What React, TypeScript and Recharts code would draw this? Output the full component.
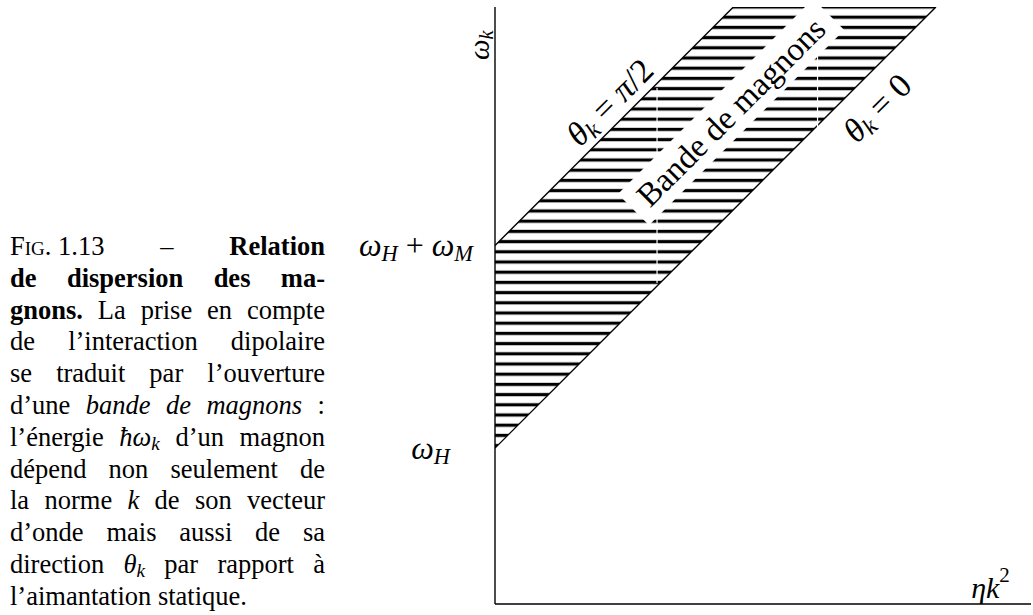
import React from 'react';
import {
  Area,
  ComposedChart,
  Line,
  ReferenceDot,
  ReferenceLine,
  XAxis,
  YAxis,
} from 'recharts';

// schematic units: omega_H = 1 on the vertical axis, same scale along eta k^2
const etaK2 = [0, 1.53, 2.83];
const thetaZero = [1, 2.53, 3.83]; // lower edge of the band
const thetaHalfPi: (number | null)[] = [2.3, 3.83, null]; // upper edge, leaves the frame at the top
const omegaTicks = [1, 2.3];
const omegaTickLabels = ['ω_H', 'ω_H + ω_M'];
const X_MAX = 3.44;
const Y_MAX = 3.83;

// thin white seams that cut the hatching in the original render
const seamX = [1.04, 2.07];
const seamFrom = [2.06, 3.05];
const seamTo = [3.31, 3.52];

const rows = etaK2.map((x, i) => ({
  x,
  zero: thetaZero[i],
  half: thetaHalfPi[i],
  band: [thetaZero[i], thetaHalfPi[i] ?? Y_MAX],
}));

const SERIF = '"Liberation Serif", "DejaVu Serif", serif';

// where the text labels sit, in chart units
const labelSpots = [
  { text: 'ω_k', x: -0.1, y: 3.585, angle: -90, size: 29 },
  { text: 'ηk^2', x: 3.18, y: 0.11, angle: 0, size: 30 },
  { text: 'θ_k = π/2', x: 0.733, y: 3.222, angle: -45, size: 34 },
  { text: 'θ_k = 0', x: 2.45, y: 3.185, angle: -45, size: 34 },
];
const bandLabel = { text: 'Bande de magnons', x: 1.515, y: 3.156 };
const tickGap = [45, 22];

// tiny TeX-ish renderer: _x subscript, ^x superscript, letters in italic
function mathRuns(src: string, size: number) {
  const out: React.ReactNode[] = [];
  let shift = 0;
  let i = 0;
  let k = 0;
  while (i < src.length) {
    let level = 0;
    let ch = src[i];
    if ((ch === '_' || ch === '^') && i + 1 < src.length) {
      level = ch === '_' ? 1 : -1;
      ch = src[i + 1];
      i += 2;
    } else {
      i += 1;
    }
    const target = level === 1 ? size * 0.24 : level === -1 ? -size * 0.38 : 0;
    const italic = /[A-Za-z\u0370-\u03ff]/.test(ch);
    out.push(
      <tspan
        key={k++}
        dy={target - shift}
        fontSize={level ? size * 0.7 : size}
        fontStyle={italic ? 'italic' : 'normal'}
      >
        {ch}
      </tspan>
    );
    shift = target;
  }
  return out;
}

const mathLabel = (text: string, angle: number, size: number) => (props: any) => {
  const { cx, cy } = props;
  return (
    <text
      x={cx}
      y={cy}
      transform={`rotate(${angle} ${cx} ${cy})`}
      textAnchor="middle"
      dominantBaseline="central"
      fontFamily={SERIF}
      fill="#000"
      style={{ whiteSpace: 'pre' }}
    >
      {mathRuns(text, size)}
    </text>
  );
};

const bandShape = (props: any) => {
  const { cx, cy } = props;
  return (
    <g transform={`rotate(-45 ${cx} ${cy})`}>
      <rect x={cx - 138} y={cy - 22} width={276} height={44} fill="#fff" />
      <text
        x={cx}
        y={cy}
        textAnchor="middle"
        dominantBaseline="central"
        fontFamily={SERIF}
        fontSize={33}
        fill="#000"
      >
        {bandLabel.text}
      </text>
    </g>
  );
};

const OmegaTick = (props: any) => {
  const { x, y, index } = props;
  return (
    <text
      x={x - tickGap[index]}
      y={y}
      textAnchor="end"
      dominantBaseline="central"
      fontFamily={SERIF}
      fill="#000"
      style={{ whiteSpace: 'pre' }}
    >
      {mathRuns(omegaTickLabels[index], 32)}
    </text>
  );
};

function DispersionChart() {
  return (
    <ComposedChart
      width={703}
      height={615}
      data={rows}
      margin={{ top: 7, right: 2, bottom: 10, left: 0 }}
    >
      <defs>
        <pattern id="hatch" patternUnits="userSpaceOnUse" width={10} height={10.2}>
          <rect x={0} y={5.4} width={10} height={3.2} fill="#000" />
        </pattern>
      </defs>
      <XAxis
        dataKey="x"
        type="number"
        domain={[0, X_MAX]}
        allowDataOverflow
        tick={false}
        tickLine={false}
        height={1}
        axisLine={{ stroke: '#000', strokeWidth: 1.4 }}
      />
      <YAxis
        type="number"
        domain={[0, Y_MAX]}
        allowDataOverflow
        ticks={omegaTicks}
        tick={<OmegaTick />}
        tickLine={false}
        tickSize={0}
        tickMargin={0}
        width={165}
        axisLine={{ stroke: '#000', strokeWidth: 1.4 }}
      />
      <Area
        dataKey="band"
        type="linear"
        stroke="none"
        fill="url(#hatch)"
        fillOpacity={1}
        isAnimationActive={false}
        activeDot={false}
      />
      <Line
        dataKey="zero"
        type="linear"
        stroke="#000"
        strokeWidth={1.4}
        dot={false}
        activeDot={false}
        isAnimationActive={false}
      />
      <Line
        dataKey="half"
        type="linear"
        stroke="#000"
        strokeWidth={1.4}
        dot={false}
        activeDot={false}
        isAnimationActive={false}
      />
      {seamX.map((x, i) => (
        <ReferenceLine
          key={`seam-${i}`}
          segment={[
            { x, y: seamFrom[i] },
            { x, y: seamTo[i] },
          ]}
          stroke="#fff"
          strokeWidth={1.2}
        />
      ))}
      <ReferenceDot
        x={bandLabel.x}
        y={bandLabel.y}
        r={0}
        shape={bandShape}
      />
      {labelSpots.map((l) => (
        <ReferenceDot
          key={l.text}
          x={l.x}
          y={l.y}
          r={0}
          ifOverflow="visible"
          shape={mathLabel(l.text, l.angle, l.size)}
        />
      ))}
    </ComposedChart>
  );
}

const sub: React.CSSProperties = { fontSize: '0.72em', verticalAlign: '-0.22em', lineHeight: 0 };
const lineStyle: React.CSSProperties = { textAlign: 'justify', textAlignLast: 'justify' };

function Caption() {
  return (
    <div
      style={{
        position: 'absolute',
        left: 10,
        top: 231,
        width: 315,
        fontFamily: SERIF,
        fontSize: 26.5,
        lineHeight: '31.8px',
        color: '#000',
      }}
    >
      <div style={lineStyle}>
        <span style={{ display: 'inline-block' }}>
          <span style={{ fontVariant: 'small-caps' }}>Fig.</span> 1.13
        </span>{' '}
        – <b>Relation</b>
      </div>
      <div style={lineStyle}>
        <b>de dispersion des ma-</b>
      </div>
      <div style={lineStyle}>
        <b>gnons.</b> La prise en compte
      </div>
      <div style={lineStyle}>de l’interaction dipolaire</div>
      <div style={lineStyle}>se traduit par l’ouverture</div>
      <div style={lineStyle}>
        d’une <i>bande de magnons</i> :
      </div>
      <div style={lineStyle}>
        l’énergie{' '}
        <span style={{ display: 'inline-block' }}>
          <i>ħω</i>
          <i style={sub}>k</i>
        </span>{' '}
        d’un magnon
      </div>
      <div style={lineStyle}>dépend non seulement de</div>
      <div style={lineStyle}>
        la norme <i>k</i> de son vecteur
      </div>
      <div style={lineStyle}>d’onde mais aussi de sa</div>
      <div style={lineStyle}>
        direction{' '}
        <span style={{ display: 'inline-block' }}>
          <i>θ</i>
          <i style={sub}>k</i>
        </span>{' '}
        par rapport à
      </div>
      <div>l’aimantation statique.</div>
    </div>
  );
}

export default function App() {
  return (
    <div
      style={{
        position: 'absolute',
        left: 0,
        top: 0,
        width: 1033,
        height: 615,
        background: '#fff',
        overflow: 'hidden',
      }}
    >
      <Caption />
      <div style={{ position: 'absolute', left: 330, top: 0 }}>
        <DispersionChart />
      </div>
    </div>
  );
}
